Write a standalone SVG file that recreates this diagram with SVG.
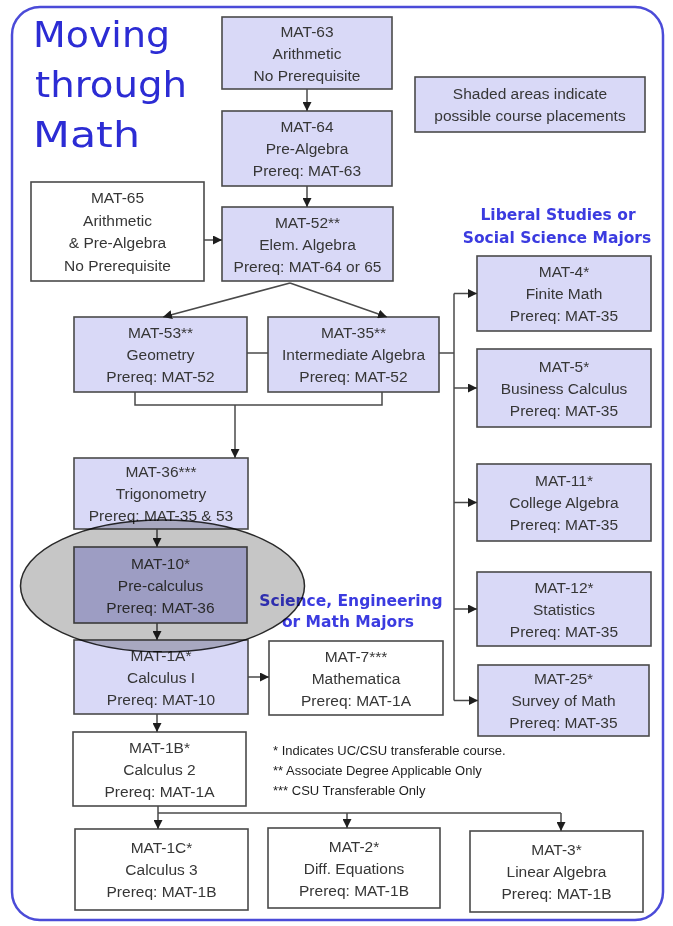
<svg xmlns="http://www.w3.org/2000/svg" width="673" height="926" viewBox="0 0 673 926">
<style>
.box{stroke:#4a4a4a;stroke-width:1.6}
.lav{fill:#d9d9f7}
.wht{fill:#ffffff}
.dark{fill:#cacafc}
.t{font-family:"Liberation Sans",Arial,sans-serif;font-size:15.5px;fill:#363636;text-anchor:middle}
.fn{font-family:"Liberation Sans",Arial,sans-serif;font-size:13px;fill:#1e1e1e}
.head{font-family:"DejaVu Sans",Verdana,sans-serif;font-weight:bold;font-size:15.5px;fill:#3b3be0;text-anchor:middle}
.title{font-family:"DejaVu Sans",Verdana,sans-serif;font-size:35px;fill:#2c2cd4}
.c{fill:none;stroke:#4a4a4a;stroke-width:1.5}
.a{fill:none;stroke:#4a4a4a;stroke-width:1.5;marker-end:url(#ah)}
</style>
<defs>
<marker id="ah" markerWidth="10" markerHeight="9" refX="9" refY="4.5" orient="auto" markerUnits="userSpaceOnUse">
<path d="M0,0 L9,4.5 L0,9 z" fill="#1e1e1e"/>
</marker>
</defs>
<rect width="673" height="926" fill="#ffffff"/>
<rect x="12" y="7" width="651" height="913" rx="28" fill="none" stroke="#4b4bd8" stroke-width="2.5"/>

<g id="title">
<text class="title" x="33" y="47" textLength="137" lengthAdjust="spacingAndGlyphs">Moving</text>
<text class="title" x="35" y="97" textLength="152" lengthAdjust="spacingAndGlyphs">through</text>
<text class="title" x="33" y="147" textLength="107" lengthAdjust="spacingAndGlyphs">Math</text>
</g>

<g id="legend">
<rect class="box lav" x="415" y="77" width="230" height="55"/>
<text class="t" x="530" y="99">Shaded areas indicate</text>
<text class="t" x="530" y="121">possible course placements</text>
</g>

<g id="mat63">
<rect class="box lav" x="222" y="17" width="170" height="72"/>
<text class="t" x="307" y="36.5">MAT-63</text>
<text class="t" x="307" y="58.5">Arithmetic</text>
<text class="t" x="307" y="80.5">No Prerequisite</text>
</g>
<g id="mat64">
<rect class="box lav" x="222" y="111" width="170" height="75"/>
<text class="t" x="307" y="132">MAT-64</text>
<text class="t" x="307" y="154">Pre-Algebra</text>
<text class="t" x="307" y="176">Prereq: MAT-63</text>
</g>
<g id="mat65">
<rect class="box wht" x="31" y="182" width="173" height="99"/>
<text class="t" x="117.5" y="203">MAT-65</text>
<text class="t" x="117.5" y="226">Arithmetic</text>
<text class="t" x="117.5" y="248">&amp; Pre-Algebra</text>
<text class="t" x="117.5" y="271">No Prerequisite</text>
</g>
<g id="mat52">
<rect class="box lav" x="222" y="207" width="171" height="74"/>
<text class="t" x="307.5" y="227.5">MAT-52**</text>
<text class="t" x="307.5" y="249.5">Elem. Algebra</text>
<text class="t" x="307.5" y="271.5">Prereq: MAT-64 or 65</text>
</g>
<g id="mat53">
<rect class="box lav" x="74" y="317" width="173" height="75"/>
<text class="t" x="160.5" y="338">MAT-53**</text>
<text class="t" x="160.5" y="360">Geometry</text>
<text class="t" x="160.5" y="382">Prereq: MAT-52</text>
</g>
<g id="mat35">
<rect class="box lav" x="268" y="317" width="171" height="75"/>
<text class="t" x="353.5" y="338">MAT-35**</text>
<text class="t" x="353.5" y="360">Intermediate Algebra</text>
<text class="t" x="353.5" y="382">Prereq: MAT-52</text>
</g>
<g id="mat36">
<rect class="box lav" x="74" y="458" width="174" height="71"/>
<text class="t" x="161" y="477">MAT-36***</text>
<text class="t" x="161" y="499">Trigonometry</text>
<text class="t" x="161" y="521">Prereq: MAT-35 &amp; 53</text>
</g>
<g id="mat10">
<rect class="box dark" x="74" y="547" width="173" height="76"/>
<text class="t" x="160.5" y="568.5">MAT-10*</text>
<text class="t" x="160.5" y="590.5">Pre-calculus</text>
<text class="t" x="160.5" y="612.5">Prereq: MAT-36</text>
</g>
<g id="mat1a">
<rect class="box lav" x="74" y="640" width="174" height="74"/>
<text class="t" x="161" y="660.5">MAT-1A*</text>
<text class="t" x="161" y="682.5">Calculus I</text>
<text class="t" x="161" y="704.5">Prereq: MAT-10</text>
</g>
<g id="mat7">
<rect class="box wht" x="269" y="641" width="174" height="74"/>
<text class="t" x="356" y="661.5">MAT-7***</text>
<text class="t" x="356" y="683.5">Mathematica</text>
<text class="t" x="356" y="705.5">Prereq: MAT-1A</text>
</g>
<g id="mat1b">
<rect class="box wht" x="73" y="732" width="173" height="74"/>
<text class="t" x="159.5" y="752.5">MAT-1B*</text>
<text class="t" x="159.5" y="774.5">Calculus 2</text>
<text class="t" x="159.5" y="796.5">Prereq: MAT-1A</text>
</g>
<g id="mat1c">
<rect class="box wht" x="75" y="829" width="173" height="81"/>
<text class="t" x="161.5" y="853">MAT-1C*</text>
<text class="t" x="161.5" y="875">Calculus 3</text>
<text class="t" x="161.5" y="897">Prereq: MAT-1B</text>
</g>
<g id="mat2">
<rect class="box wht" x="268" y="828" width="172" height="80"/>
<text class="t" x="354" y="851.5">MAT-2*</text>
<text class="t" x="354" y="873.5">Diff. Equations</text>
<text class="t" x="354" y="895.5">Prereq: MAT-1B</text>
</g>
<g id="mat3">
<rect class="box wht" x="470" y="831" width="173" height="81"/>
<text class="t" x="556.5" y="855">MAT-3*</text>
<text class="t" x="556.5" y="877">Linear Algebra</text>
<text class="t" x="556.5" y="899">Prereq: MAT-1B</text>
</g>
<g id="mat4">
<rect class="box lav" x="477" y="256" width="174" height="75"/>
<text class="t" x="564" y="277">MAT-4*</text>
<text class="t" x="564" y="299">Finite Math</text>
<text class="t" x="564" y="321">Prereq: MAT-35</text>
</g>
<g id="mat5">
<rect class="box lav" x="477" y="349" width="174" height="78"/>
<text class="t" x="564" y="371.5">MAT-5*</text>
<text class="t" x="564" y="393.5">Business Calculus</text>
<text class="t" x="564" y="415.5">Prereq: MAT-35</text>
</g>
<g id="mat11">
<rect class="box lav" x="477" y="464" width="174" height="77"/>
<text class="t" x="564" y="486">MAT-11*</text>
<text class="t" x="564" y="508">College Algebra</text>
<text class="t" x="564" y="530">Prereq: MAT-35</text>
</g>
<g id="mat12">
<rect class="box lav" x="477" y="572" width="174" height="74"/>
<text class="t" x="564" y="592.5">MAT-12*</text>
<text class="t" x="564" y="614.5">Statistics</text>
<text class="t" x="564" y="636.5">Prereq: MAT-35</text>
</g>
<g id="mat25">
<rect class="box lav" x="478" y="665" width="171" height="71"/>
<text class="t" x="563.5" y="684">MAT-25*</text>
<text class="t" x="563.5" y="706">Survey of Math</text>
<text class="t" x="563.5" y="728">Prereq: MAT-35</text>
</g>

<g id="headings">
<text class="head" x="558" y="220">Liberal Studies or</text>
<text class="head" x="557" y="243">Social Science Majors</text>
<text class="head" x="351" y="606">Science, Engineering</text>
<text class="head" x="348" y="627">or Math Majors</text>
</g>

<g id="footnotes">
<text class="fn" x="273" y="755">* Indicates UC/CSU transferable course.</text>
<text class="fn" x="273" y="775">** Associate Degree Applicable Only</text>
<text class="fn" x="273" y="795">*** CSU Transferable Only</text>
</g>

<g id="connectors">
<path class="a" d="M307,89 V111"/>
<path class="a" d="M307,186 V207"/>
<path class="a" d="M204,240 H222"/>
<path class="a" d="M290,283 L163,317"/>
<path class="a" d="M290,283 L387,317"/>
<path class="c" d="M247,353 H268"/>
<path class="c" d="M439,353 H454"/>
<path class="c" d="M454,293.5 V700.5"/>
<path class="a" d="M454,293.5 H477"/>
<path class="a" d="M454,388 H477"/>
<path class="a" d="M454,502.5 H477"/>
<path class="a" d="M454,609 H477"/>
<path class="a" d="M454,700.5 H478"/>
<path class="c" d="M135,392 V405 H382 V392"/>
<path class="a" d="M235,405 V458"/>
<path class="a" d="M157,529 V547"/>
<path class="a" d="M157,623 V640"/>
<path class="a" d="M248,677 H269"/>
<path class="a" d="M157,714 V732"/>
<path class="a" d="M158,806 V829"/>
<path class="c" d="M158,813 H561"/>
<path class="a" d="M347,813 V828"/>
<path class="a" d="M561,813 V831"/>
</g>

<g id="placement-highlight">
<ellipse cx="162.5" cy="586" rx="142" ry="66" fill="#c6c6c6" stroke="#2a2a2a" stroke-width="1.5" style="mix-blend-mode:multiply"/>
</g>
</svg>
